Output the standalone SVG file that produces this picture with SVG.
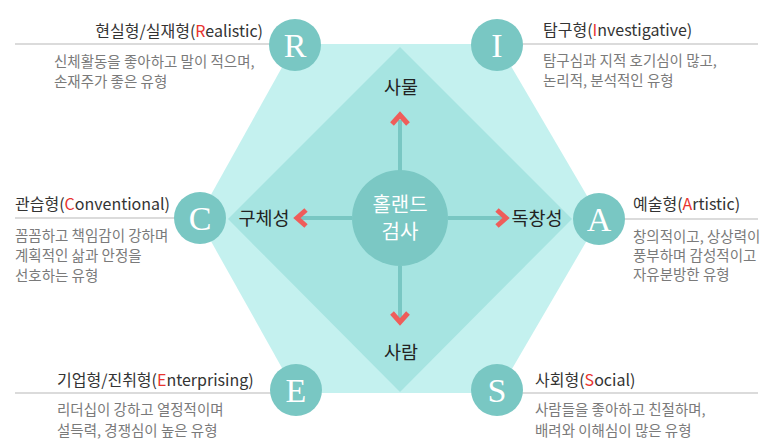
<svg xmlns="http://www.w3.org/2000/svg" width="773" height="446" viewBox="0 0 773 446">
<defs>
<style>
.hex{fill:#c4f1ef}
.dia{fill:#a6e4e1}
.node{fill:#79c7c3}
.letter{font-family:"Liberation Serif","DejaVu Serif",serif;font-size:34px;fill:#ffffff;text-anchor:middle}
.title{font-family:"Noto Sans CJK KR","Noto Sans",sans-serif;font-size:16px;fill:#333333}
.red{fill:#e8332f}
.desc{font-family:"Noto Sans CJK KR","Noto Sans",sans-serif;font-size:14.5px;fill:#7a7a7a}
.rule{stroke:#cfcfcf;stroke-width:1.5}
.axis{font-family:"Noto Sans CJK KR","Noto Sans",sans-serif;font-size:18.5px;fill:#222222;text-anchor:middle}
.ctr{font-family:"Noto Sans CJK KR","Noto Sans",sans-serif;font-size:20px;fill:#ffffff;text-anchor:middle}
.conn{stroke:#79c7c3;stroke-width:4;fill:none}
.chev{stroke:#ef5d5a;stroke-width:5;fill:none;stroke-linecap:butt;stroke-linejoin:miter}
</style>
</defs>
<rect width="773" height="446" fill="#ffffff"/>
<polygon class="hex" points="295,44 498,44 600,218 498,393 296,393 198,218"/>
<polygon class="dia" points="400,47 572,219 400,392 228,219"/>
<g id="connectors">
<line class="conn" x1="400" y1="172" x2="400" y2="120"/>
<line class="conn" x1="400" y1="266" x2="400" y2="318"/>
<line class="conn" x1="352" y1="218" x2="300" y2="218"/>
<line class="conn" x1="448" y1="218" x2="503" y2="218"/>
<polyline class="chev" points="392,124 400,115 408,124"/>
<polyline class="chev" points="392,313 400,322 408,313"/>
<polyline class="chev" points="306,210 297,218 306,226"/>
<polyline class="chev" points="497,210 506,218 497,226"/>
</g>
<g id="center">
<circle cx="400" cy="218" r="48" fill="#7bc8c4"/>
<text class="ctr" x="400" y="212">홀랜드</text>
<text class="ctr" x="400" y="239">검사</text>
</g>
<g id="axis-labels">
<text class="axis" x="401" y="94">사물</text>
<text class="axis" x="401" y="359">사람</text>
<text class="axis" x="264" y="225">구체성</text>
<text class="axis" x="537" y="225">독창성</text>
</g>
<g id="node-R">
<line class="rule" x1="15" y1="44" x2="290" y2="44"/>
<text class="title" x="263" y="37" text-anchor="end">현실형/실재형(<tspan class="red">R</tspan>ealistic)</text>
<text class="desc" x="54" y="67">신체활동을 좋아하고 말이 적으며,</text>
<text class="desc" x="54" y="87">손재주가 좋은 유형</text>
<circle class="node" cx="295" cy="45" r="26"/>
<text class="letter" x="295" y="57">R</text>
</g>
<g id="node-I">
<line class="rule" x1="500" y1="44" x2="758" y2="44"/>
<text class="title" x="543" y="36">탐구형(<tspan class="red">I</tspan>nvestigative)</text>
<text class="desc" x="543" y="66">탐구심과 지적 호기심이 많고,</text>
<text class="desc" x="543" y="86">논리적, 분석적인 유형</text>
<circle class="node" cx="497" cy="45" r="26"/>
<text class="letter" x="497" y="57">I</text>
</g>
<g id="node-C">
<line class="rule" x1="15" y1="218" x2="195" y2="218"/>
<text class="title" x="15" y="210">관습형(<tspan class="red">C</tspan>onventional)</text>
<text class="desc" x="15" y="241">꼼꼼하고 책임감이 강하며</text>
<text class="desc" x="15" y="261">계획적인 삶과 안정을</text>
<text class="desc" x="15" y="281">선호하는 유형</text>
<circle class="node" cx="200" cy="218" r="26"/>
<text class="letter" x="200" y="230">C</text>
</g>
<g id="node-A">
<line class="rule" x1="600" y1="219" x2="758" y2="219"/>
<text class="title" x="633" y="210">예술형(<tspan class="red">A</tspan>rtistic)</text>
<text class="desc" x="633" y="242">창의적이고, 상상력이</text>
<text class="desc" x="633" y="261">풍부하며 감성적이고</text>
<text class="desc" x="633" y="280">자유분방한 유형</text>
<circle class="node" cx="599" cy="219" r="26"/>
<text class="letter" x="599" y="231">A</text>
</g>
<g id="node-E">
<line class="rule" x1="15" y1="393" x2="295" y2="393"/>
<text class="title" x="57" y="386">기업형/진취형(<tspan class="red">E</tspan>nterprising)</text>
<text class="desc" x="57" y="415">리더십이 강하고 열정적이며</text>
<text class="desc" x="57" y="436">설득력, 경쟁심이 높은 유형</text>
<circle class="node" cx="296" cy="390" r="26"/>
<text class="letter" x="296" y="402">E</text>
</g>
<g id="node-S">
<line class="rule" x1="500" y1="393" x2="758" y2="393"/>
<text class="title" x="535" y="386">사회형(<tspan class="red">S</tspan>ocial)</text>
<text class="desc" x="535" y="415">사람들을 좋아하고 친절하며,</text>
<text class="desc" x="535" y="436">배려와 이해심이 많은 유형</text>
<circle class="node" cx="497" cy="390" r="26"/>
<text class="letter" x="497" y="402">S</text>
</g>
</svg>
